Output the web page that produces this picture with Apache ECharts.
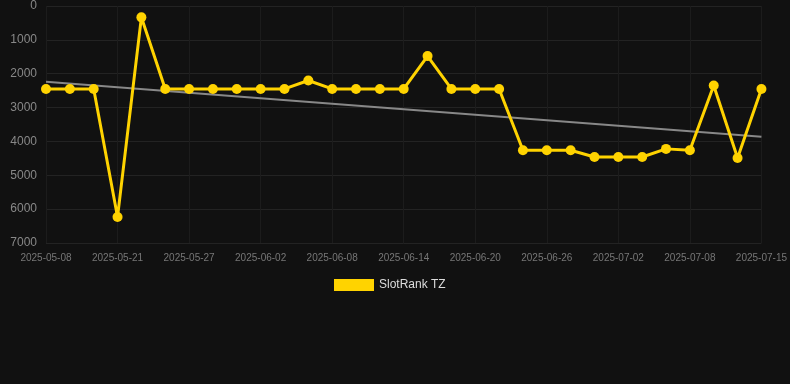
<!DOCTYPE html>
<html><head><meta charset="utf-8">
<script src="https://cdn.jsdelivr.net/npm/echarts@6/dist/echarts.min.js"></script>
<style>html,body{margin:0;padding:0;background:#111111;}#c{width:790px;height:384px;}</style>
</head><body><div id="c"></div>
<script>
const categories = ['2025-05-08','2025-05-12','2025-05-17','2025-05-21','2025-05-23','2025-05-25','2025-05-27','2025-05-29','2025-05-31','2025-06-02','2025-06-04','2025-06-06','2025-06-08','2025-06-10','2025-06-12','2025-06-14','2025-06-16','2025-06-18','2025-06-20','2025-06-22','2025-06-24','2025-06-26','2025-06-28','2025-06-30','2025-07-02','2025-07-04','2025-07-06','2025-07-08','2025-07-10','2025-07-13','2025-07-15'];
const rankValues = [2450,2450,2450,6230,335,2450,2450,2450,2450,2450,2450,2200,2450,2450,2450,2450,1480,2450,2450,2450,4260,4260,4260,4460,4460,4460,4220,4260,2350,4490,2450];
const trendEnds = [2235, 3860];
const seriesName = 'SlotRank TZ';

const n = categories.length;
const trend = categories.map((c,i)=> (i===0 ? trendEnds[0] : (i===n-1 ? trendEnds[1] : null)));

const chart = echarts.init(document.getElementById('c'));
chart.setOption({
  backgroundColor:'#111111',
  animation:false,
  grid:{left:46,right:28,top:6,bottom:141},
  legend:{data:[{name:seriesName}],left:329,bottom:88,itemWidth:40,itemHeight:12,icon:'rect',
    textStyle:{color:'#dddddd',fontSize:12,fontFamily:'Arial, Liberation Sans, sans-serif'}},
  xAxis:{type:'category',data:categories,boundaryGap:false,
    axisLine:{show:false},axisTick:{show:false},
    splitLine:{show:true,interval:2,lineStyle:{color:'#1c1c1c'}},
    axisLabel:{interval:2,color:'#777777',fontSize:10,margin:10,fontFamily:'Arial, Liberation Sans, sans-serif'}},
  yAxis:{type:'value',inverse:true,min:0,max:7000,interval:1000,
    axisLine:{show:false},axisTick:{show:false},
    splitLine:{lineStyle:{color:'#232323'}},
    axisLabel:{color:'#888888',fontSize:12,margin:9,formatter:function(v){return String(v);},fontFamily:'Arial, Liberation Sans, sans-serif'}},
  series:[
    {name:seriesName,type:'line',data:rankValues,symbol:'circle',symbolSize:10,
     itemStyle:{color:'#FFD300'},lineStyle:{color:'#FFD300',width:3},z:3},
    {name:'trend',type:'line',data:trend,connectNulls:true,symbol:'none',
     lineStyle:{color:'#888888',width:2},z:2}
  ]
});
</script></body></html>
